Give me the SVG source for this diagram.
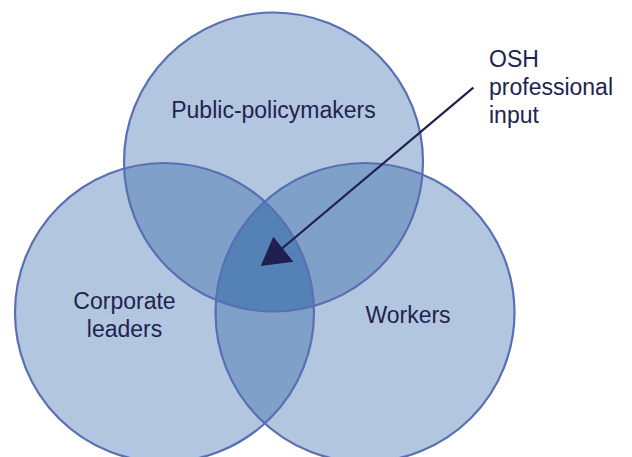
<svg xmlns="http://www.w3.org/2000/svg" width="632" height="457" viewBox="0 0 632 457">
<style>
.base{fill:#b2c6e0}
.dbl{fill:#7ea0c9}
.tri{fill:#5582b6}
.ring{fill:none;stroke:#5a6fb3;stroke-width:2.2}
.lbl{font-family:"Liberation Sans",Arial,sans-serif;font-size:23px;fill:#22234f}
</style>
<defs>
<clipPath id="cTop"><circle cx="273.5" cy="162" r="149.5"/></clipPath>
<clipPath id="cLeft"><circle cx="164.5" cy="312.5" r="149.5"/></clipPath>
<clipPath id="cRight"><circle cx="365" cy="312.5" r="149.5"/></clipPath>
</defs>
<rect width="632" height="457" fill="#ffffff"/>
<g id="fills">
<circle class="base" cx="273.5" cy="162" r="149.5"/>
<circle class="base" cx="164.5" cy="312.5" r="149.5"/>
<circle class="base" cx="365" cy="312.5" r="149.5"/>
<circle class="dbl" cx="164.5" cy="312.5" r="149.5" clip-path="url(#cTop)"/>
<circle class="dbl" cx="365" cy="312.5" r="149.5" clip-path="url(#cTop)"/>
<circle class="dbl" cx="365" cy="312.5" r="149.5" clip-path="url(#cLeft)"/>
<g clip-path="url(#cTop)"><circle class="tri" cx="365" cy="312.5" r="149.5" clip-path="url(#cLeft)"/></g>
</g>
<g id="node-public">
<circle class="ring" cx="273.5" cy="162" r="149.5"/>
<text class="lbl" x="273.5" y="118.3" text-anchor="middle">Public-policymakers</text>
</g>
<g id="node-corporate">
<circle class="ring" cx="164.5" cy="312.5" r="149.5"/>
<text class="lbl" x="124.5" y="308.5" text-anchor="middle">Corporate</text>
<text class="lbl" x="124.5" y="336.7" text-anchor="middle">leaders</text>
</g>
<g id="node-workers">
<circle class="ring" cx="365" cy="312.5" r="149.5"/>
<text class="lbl" x="408" y="322.7" text-anchor="middle">Workers</text>
</g>
<g id="node-osh">
<text class="lbl" x="489" y="66.7">OSH</text>
<text class="lbl" x="489" y="95">professional</text>
<text class="lbl" x="489" y="123.3">input</text>
</g>
<g id="connectors">
<line x1="473.3" y1="87.7" x2="282" y2="248.5" stroke="#1f1f50" stroke-width="2.2"/>
<polygon points="260.7,266 273.3,236.7 293.3,261.7" fill="#1f1f50"/>
</g>
</svg>
